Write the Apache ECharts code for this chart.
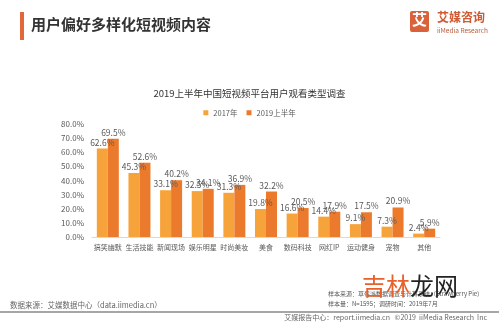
<!DOCTYPE html>
<html><head><meta charset="utf-8">
<script src="https://cdn.jsdelivr.net/npm/echarts@6/dist/echarts.min.js"></script>
<style>html,body{margin:0;padding:0;background:#fff}#c{width:499px;height:324px}</style>
</head><body><div id="c"></div>
<script>
const categories = ['搞笑幽默','生活技能','新闻现场','娱乐明星','时尚美妆','美食','数码科技','网红IP','运动健身','宠物','其他'];
const values2017 = [62.6,45.3,33.1,32.5,31.3,19.8,16.6,14.4,9.1,7.3,2.4];
const values2019H1 = [69.5,52.6,40.2,34.1,36.9,32.2,20.5,17.9,17.5,20.9,5.9];
const seriesNames = ['2017年','2019上半年'];
const F = '"Noto Sans CJK SC", sans-serif';
const chart = echarts.init(document.getElementById('c'));
const lbl = {show:true, position:'top', distance:2, fontSize:8.5, color:'#595959', fontFamily:F, formatter: p => p.value.toFixed(1) + '%'};
chart.setOption({
  animation:false,
  textStyle:{fontFamily:F},
  title:{text:'2019上半年中国短视频平台用户观看类型调查', left:'center', top:84,
    textStyle:{fontSize:9.5, fontWeight:'normal', color:'#333', fontFamily:F}},
  legend:{data:seriesNames, top:104, left:'center', itemWidth:5, itemHeight:5, itemGap:9,
    icon:'rect', textStyle:{fontSize:7.5, color:'#595959', fontFamily:F}},
  grid:{left:92, right:59, top:124, bottom:87},
  xAxis:{type:'category', data:categories,
    axisLine:{lineStyle:{color:'#d9d9d9'}}, axisTick:{show:false},
    axisLabel:{fontSize:7, color:'#595959', margin:7, interval:0, fontFamily:F}},
  yAxis:{type:'value', min:0, max:80, interval:10,
    axisLine:{show:false}, axisTick:{show:false}, splitLine:{show:false},
    axisLabel:{fontSize:8, color:'#595959', margin:8, fontFamily:F, formatter:v => v.toFixed(1)+'%'}},
  series:[
    {name:seriesNames[0], type:'bar', data:values2017, barWidth:11, barGap:'0%', itemStyle:{color:'#F7A33B'}, label:lbl},
    {name:seriesNames[1], type:'bar', data:values2019H1, barWidth:11, itemStyle:{color:'#EC7A2C'}, label:lbl}
  ],
  graphic:[
    {type:'rect', shape:{x:20,y:12,width:4,height:28}, style:{fill:'#E0683A'}},
    {type:'text', left:31, top:17, style:{text:'用户偏好多样化短视频内容', fontSize:15, fontWeight:'bold', fill:'#333', fontFamily:F}},
    {type:'rect', shape:{x:410,y:11,width:19,height:21,r:2}, style:{fill:'#D9623A'}},
    {type:'text', left:412, top:12, style:{text:'艾', fontSize:15, fontWeight:'bold', fill:'#fff', fontFamily:F}},
    {type:'text', left:437, top:11, style:{text:'艾媒咨询', fontSize:12, fontWeight:'bold', fill:'#D05A33', fontFamily:F}},
    {type:'text', left:437, top:27, style:{text:'iiMedia Research', fontSize:6.5, fill:'#B85A3A', fontFamily:F}},
    {type:'text', left:10, top:301, style:{text:'数据来源：艾媒数据中心（data.iimedia.cn）', fontSize:7.5, fill:'#666', fontFamily:F}},
    {type:'text', left:328, top:291, style:{text:'样本来源：草莓派数据调查与计算系统（Strawberry Pie)', fontSize:6, fill:'#555', fontFamily:F}},
    {type:'text', left:328, top:301, style:{text:'样本量：N=1595；调研时间：2019年7月', fontSize:6, fill:'#555', fontFamily:F}},
    {type:'rect', shape:{x:0,y:311,width:499,height:2}, style:{fill:'#a6a6a6'}},
    {type:'text', right:12, top:314, style:{text:'艾媒报告中心：report.iimedia.cn   ©2019  iiMedia Research  Inc', fontSize:7, fill:'#666', fontFamily:F}},
    {type:'text', left:362, top:274, style:{text:'吉林', fontSize:24, fill:'#E8612C', fontFamily:F}},
    {type:'text', left:410, top:274, style:{text:'龙网', fontSize:24, fill:'#222', fontFamily:F}}
  ]
});
</script></body></html>
